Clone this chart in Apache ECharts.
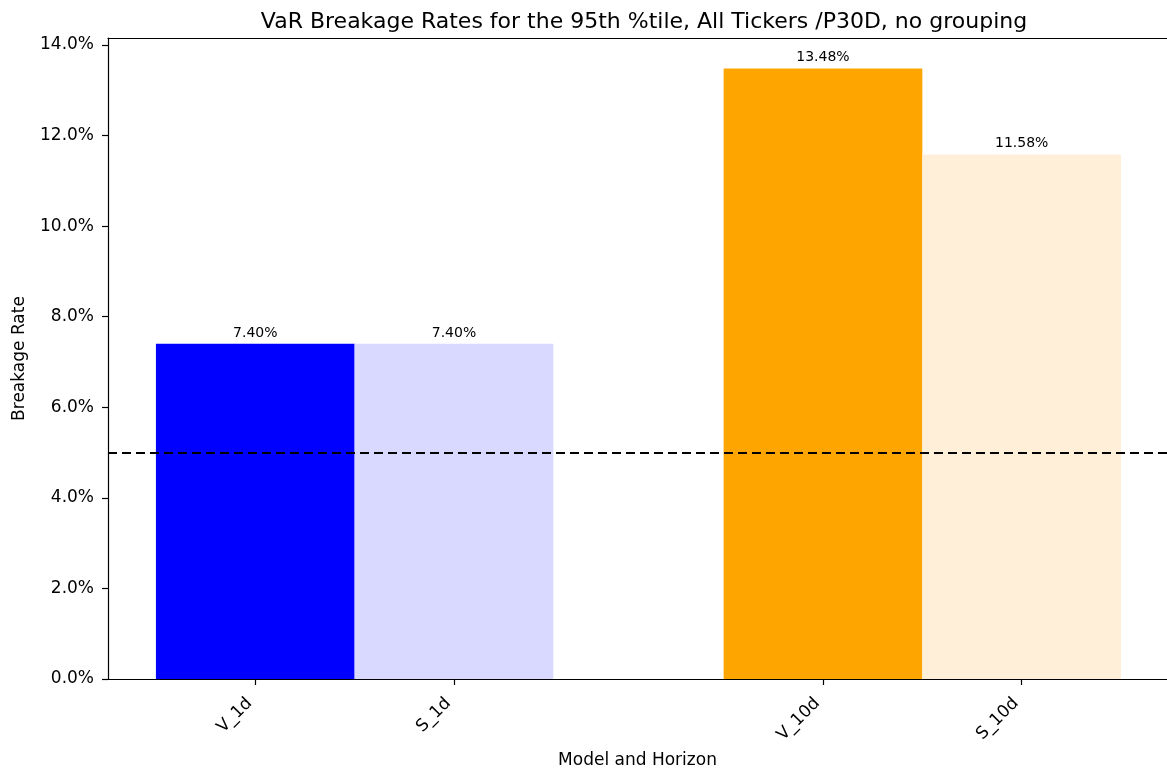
<!DOCTYPE html>
<html>
<head>
<meta charset="utf-8">
<title>VaR Breakage Rates</title>
<script src="https://cdn.jsdelivr.net/npm/echarts@6/dist/echarts.min.js"></script>
<style>
  html, body { margin: 0; padding: 0; background: #fff; }
  #chart { width: 1167px; height: 775px; }
</style>
</head>
<body>
<div id="chart"></div>
<script>
// data
const categories = ['V_1d', 'S_1d', 'V_10d', 'S_10d'];
const groupIndex = [0, 0, 1, 1];      // horizon group (1d / 10d)
const sideIndex = [0, 1, 0, 1];       // left bar = V, right bar = S
const rates = [0.0740, 0.0740, 0.1348, 0.1158];
const barColors = ['#0000ff', '#d9d9ff', '#ffa500', '#ffefd9'];
const yTicks = [0, 0.02, 0.04, 0.06, 0.08, 0.10, 0.12, 0.14];
const expectedRate = 0.05;

const barW = 0.35;
// bar centres: group position +/- half a bar
const positions = groupIndex.map((g, i) => g + (sideIndex[i] === 0 ? -barW / 2 : barW / 2));
const seriesData = positions.map((x, i) => [x, rates[i]]);

const FONT = '"DejaVu Sans", sans-serif';
const pct = v => (v * 100).toFixed(1) + '%';
const X_MIN = -0.4344, X_MAX = 1.431;

const chart = echarts.init(document.getElementById('chart'));

const option = {
    animation: false,
    backgroundColor: '#fff',
    title: {
        text: 'VaR Breakage Rates for the 95th %tile, All Tickers /P30D, no grouping',
        left: 639,
        textAlign: 'center',
        top: 6,
        textStyle: { fontFamily: FONT, fontSize: 22, fontWeight: 'normal', color: '#000' }
    },
    grid: { left: 108, top: 38, width: 1061, height: 641 },
    xAxis: [{
        type: 'value',
        min: X_MIN,
        max: X_MAX,
        name: 'Model and Horizon',
        nameLocation: 'middle',
        nameGap: 73,
        nameTextStyle: { fontFamily: FONT, fontSize: 17, color: '#000' },
        splitLine: { show: false },
        axisLine: { onZero: false, lineStyle: { color: '#000', width: 1.2 } },
        axisTick: { customValues: positions, length: 6, lineStyle: { color: '#000', width: 1.2 } },
        axisLabel: {
            customValues: positions,
            rotate: 45,
            margin: 16,
            padding: [0, 8, 0, 0],
            fontFamily: FONT,
            fontSize: 17,
            color: '#000',
            formatter: v => {
                let best = 0;
                positions.forEach((p, i) => { if (Math.abs(p - v) < Math.abs(positions[best] - v)) best = i; });
                return categories[best];
            }
        }
    }, {
        // top spine
        type: 'value',
        position: 'top',
        min: X_MIN,
        max: X_MAX,
        splitLine: { show: false },
        axisLine: { onZero: false, lineStyle: { color: '#000', width: 1.2 } },
        axisTick: { show: false },
        axisLabel: { show: false }
    }],
    yAxis: {
        type: 'value',
        min: 0,
        max: 0.14154,
        name: 'Breakage Rate',
        nameLocation: 'middle',
        nameGap: 80,
        nameTextStyle: { fontFamily: FONT, fontSize: 17, color: '#000' },
        splitLine: { show: false },
        axisLine: { show: true, onZero: false, lineStyle: { color: '#000', width: 1.2 } },
        axisTick: { show: true, customValues: yTicks, length: 6, lineStyle: { color: '#000', width: 1.2 } },
        axisLabel: {
            customValues: yTicks,
            margin: 14,
            fontFamily: FONT,
            fontSize: 17,
            color: '#000',
            formatter: pct
        }
    },
    series: [{
        type: 'custom',
        xAxisIndex: 0,
        data: seriesData,
        renderItem: (params, api) => {
            const x = api.value(0);
            const y = api.value(1);
            const p0 = api.coord([x - barW / 2, y]);
            const p1 = api.coord([x + barW / 2, 0]);
            return {
                type: 'rect',
                shape: { x: p0[0], y: p0[1], width: p1[0] - p0[0], height: p1[1] - p0[1] },
                style: { fill: barColors[params.dataIndex] },
                textContent: {
                    style: {
                        text: (y * 100).toFixed(2) + '%',
                        fill: '#000',
                        fontFamily: FONT,
                        fontSize: 14
                    }
                },
                textConfig: { position: 'top', distance: 4 }
            };
        }
    }, {
        // expected breakage rate reference line
        type: 'line',
        xAxisIndex: 0,
        data: [],
        markLine: {
            silent: true,
            symbol: 'none',
            label: { show: false },
            lineStyle: { color: '#000', type: [9, 5], width: 2.2 },
            data: [{ yAxis: expectedRate }]
        }
    }]
};

chart.setOption(option);
</script>
</body>
</html>
